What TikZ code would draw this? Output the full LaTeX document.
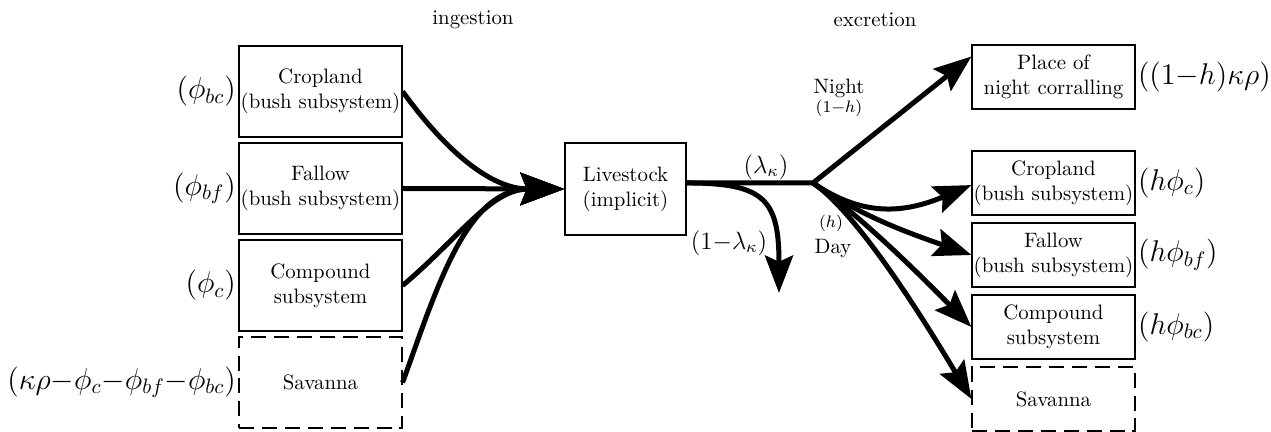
\documentclass[tikz,border=0pt]{standalone}
\usetikzlibrary{arrows.meta}
\begin{document}
\begin{tikzpicture}[x=0.48pt,y=-0.48pt,
  box/.style={draw, line width=0.6pt, align=center, minimum width=78.2pt, inner sep=0.8pt},
  lbox/.style={box, minimum height=43.7pt},
  rbox/.style={box, minimum height=30.7pt},
  dbox/.style={dash pattern=on 7.2pt off 3.8pt},
  flow/.style={line width=2.4pt},
  bigtip/.style={-{Stealth[length=21pt,width=15.4pt,inset=3pt]}},
  tip/.style={-{Stealth[length=18pt,width=13.5pt,inset=3pt]}},
  lab/.style={inner sep=1pt},
]
\useasboundingbox (0,0) rectangle (1271,432);

% titles
\node[lab] (ting) at (473,20) {ingestion};
\node[lab] (texc) at (875,20) {excretion};

% left boxes
\node[lbox] (lc) at (320.5,91.5) {Cropland\\(bush subsystem)};
\node[lbox] (lf) at (320.5,188.5) {Fallow\\(bush subsystem)};
\node[lbox] (lo) at (320.5,285.5) {Compound\\subsystem};
\node[lbox,dbox] (ls) at (320.5,382.5) {Savanna};

\node[lab,anchor=east] (llc) at (lc.west) {\Large$(\phi_{bc})$};
\node[lab,anchor=east] (llf) at (lf.west) {\Large$(\phi_{bf})$};
\node[lab,anchor=east] (llo) at (lo.west) {\Large$(\phi_{c})$};
\node[lab,anchor=east] (lls) at (ls.west) {\Large$(\kappa\rho{-}\phi_c{-}\phi_{bf}{-}\phi_{bc})$};

% livestock
\node[box, minimum width=58.1pt, minimum height=44.2pt] (liv) at (625.5,189) {Livestock\\(implicit)};

% right boxes
\node[rbox] (pl) at (1053.5,77) {Place of\\night corralling};
\node[rbox] (rc) at (1053.5,183) {Cropland\\(bush subsystem)};
\node[rbox] (rf) at (1053.5,255) {Fallow\\(bush subsystem)};
\node[rbox] (ro) at (1053.5,327) {Compound\\subsystem};
\node[rbox,dbox] (rs) at (1053.5,399) {Savanna};

\node[lab,anchor=west] (lpl) at (pl.east) {\Large$((1{-}h)\kappa\rho)$};
\node[lab,anchor=west] (lrc) at (rc.east) {\Large$(h\phi_c)$};
\node[lab,anchor=west] (lrf) at (rf.east) {\Large$(h\phi_{bf})$};
\node[lab,anchor=west] (lro) at (ro.east) {\Large$(h\phi_{bc})$};

% ingestion flows
\draw[flow,bigtip] (lc.east) to[out=-54,in=180] (liv.west);
\draw[flow,bigtip] (lf.east) -- (liv.west);
\draw[flow,bigtip] (lo.east) to[out=40,in=180] (liv.west);
\draw[flow,bigtip] (ls.east) to[out=70,in=180] (liv.west);

% excretion flows
\coordinate (br) at (813,183);
\coordinate (dn) at (779,293);
\draw[flow] ([yshift=2.9pt]liv.east) -- (br);
\draw[flow,tip] ([yshift=2.9pt]liv.east) .. controls (765,183) and (779,200) .. (dn);
\draw[flow,tip] (br) -- ([yshift=-5.8pt]pl.north west);
\draw[flow,tip] (br) .. controls (860,215) and (900,215) .. ([yshift=-1pt]rc.west);
\draw[flow,tip] (br) .. controls (860,215) and (900,230) .. (rf.west);
\draw[flow,tip] (br) .. controls (860,215) and (920,275) .. (ro.west);
\draw[flow,tip] (br) .. controls (860,215) and (930,330) .. (rs.west);

% flow labels
\node[lab] (llk) at (766,167) {\large$(\lambda_\kappa)$};
\node[lab] (l1k) at (729,243) {\large$(1{-}\lambda_\kappa)$};
\node[lab] (lnight) at (839,88) {Night};
\node[lab] (lnh) at (839,108) {\footnotesize$(1{-}h)$};
\node[lab] (ldh) at (831,223) {\footnotesize$(h)$};
\node[lab] (lday) at (833,249) {Day};
\end{tikzpicture}
\end{document}
